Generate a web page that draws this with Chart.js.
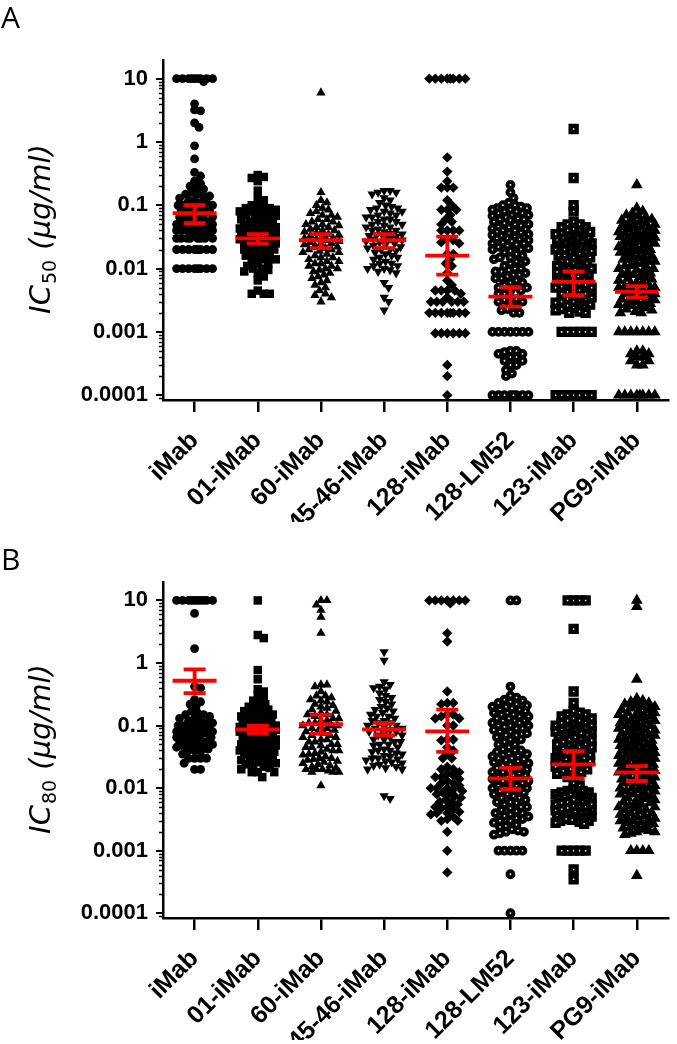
<!DOCTYPE html>
<html>
<head>
<meta charset="utf-8">
<script src="https://cdn.jsdelivr.net/npm/chart.js@4.4.1/dist/chart.umd.min.js"></script>
<style>
  body { margin: 0; width: 677px; height: 1044px; background: #fff; overflow: hidden; position: relative; }
  .panel { position: absolute; left: 0; width: 677px; height: 522px; }
  #pA { top: 0; }
  #pB { top: 518px; }
</style>
</head>
<body>
<div class="panel" id="pA"><canvas id="chartA"></canvas></div>
<div class="panel" id="pB"><canvas id="chartB"></canvas></div>
<script>
const categories = ['iMab', '01-iMab', '60-iMab', '45-46-iMab', '128-iMab', '128-LM52', '123-iMab', 'PG9-iMab'];
const yTicks = [0.0001, 0.001, 0.01, 0.1, 1, 10];

// IC50 values (ug/ml), one array per antibody
const ic50_iMab = [10,10,10,10,10,10,10,10,10,9,
  4,3.2,3.1,2,1.7,0.87,0.54,0.33,0.29,0.24,0.22,
  0.2,0.19,0.18,0.16,0.15,0.15,0.14,0.14,0.13,0.12,0.12,0.11,0.11,0.1,0.1,0.1,0.095,0.09,0.09,0.085,0.08,0.08,0.075,0.07,0.07,0.065,0.065,0.06,0.06,0.058,0.055,0.052,0.05,0.05,0.048,0.045,0.045,0.042,
  0.04,0.04,0.04,0.04,0.04,0.04,0.04,0.036,0.034,0.032,
  0.03,0.03,0.03,0.03,0.03,0.03,0.03,0.03,
  0.02,0.02,0.02,0.02,0.02,0.02,0.02,0.02,
  0.01,0.01,0.01,0.01,0.01,0.01,0.01,0.01];
const ic50_01 = [0.3,0.28,0.27,0.24,0.17,0.13,0.12,
  0.1,0.1,0.095,0.09,0.09,0.085,0.08,0.08,0.08,0.075,0.07,0.07,0.068,0.065,0.06,0.06,0.06,0.055,0.055,0.05,0.05,0.05,0.048,0.045,0.045,0.043,0.04,0.04,0.04,0.038,0.036,0.035,0.034,0.033,0.032,0.03,0.03,0.03,0.029,0.028,0.027,0.026,0.025,0.025,0.024,0.023,0.022,0.021,0.02,0.02,0.02,0.019,0.018,0.017,0.016,0.016,0.015,0.014,0.014,0.013,0.012,0.012,0.011,0.01,0.01,0.0095,0.009,0.0085,0.0075,0.0065,
  0.0045,0.004,0.004,0.004];
const ic50_60 = [6,0.16,0.12,0.11,0.1,0.09,0.085,0.08,0.075,0.07,0.07,0.065,0.06,0.06,0.055,0.055,0.05,0.05,0.048,0.045,0.045,0.042,0.04,0.04,0.038,0.036,0.035,0.034,0.033,0.032,0.03,0.03,0.029,0.028,0.027,0.026,0.025,0.025,0.024,0.023,0.022,0.021,0.02,0.02,0.019,0.018,0.018,0.017,0.016,0.015,0.015,0.014,0.013,0.013,0.012,0.012,0.011,0.011,0.01,0.01,0.0095,0.009,0.0085,0.008,0.0075,0.007,0.0065,0.006,0.0055,0.005,0.0045,0.004,0.0038,0.0035,0.003];
const ic50_4546 = [0.17,0.17,0.16,0.16,0.15,0.13,0.12,0.11,0.1,0.095,0.09,0.09,0.085,0.08,0.08,0.075,0.07,0.07,0.065,0.065,0.06,0.06,0.055,0.055,0.05,0.05,0.048,0.045,0.045,0.042,0.04,0.04,0.038,0.036,0.035,0.034,0.033,0.032,0.03,0.03,0.029,0.028,0.027,0.026,0.025,0.024,0.023,0.022,0.021,0.02,0.02,0.019,0.018,0.017,0.016,0.015,0.015,0.014,0.013,0.012,0.012,0.011,0.011,0.01,0.01,0.0095,0.009,0.0085,0.006,0.005,0.0035,0.003,0.0022];
const ic50_128 = [10,10,10,10,10,10,10,10,0.57,0.34,0.24,0.19,0.19,0.19,0.12,0.1,0.085,0.085,0.085,0.07,0.06,0.055,0.05,0.04,0.04,0.04,0.04,0.03,0.028,0.026,0.025,0.017,0.017,0.014,0.012,0.011,0.0085,0.0065,0.0055,
  0.0045,0.0045,0.0045,0.0045,0.004,0.0035,0.003,0.003,0.003,0.003,0.003,0.003,
  0.002,0.002,0.002,0.002,0.002,0.002,0.002,0.002,
  0.00095,0.00095,0.00095,0.00095,0.00095,0.00095,0.0003,0.0002,0.0001];
const ic50_LM52 = [0.21,0.16,0.13,0.11,
  0.1,0.1,0.095,0.09,0.09,0.085,0.085,0.08,0.08,0.075,0.075,0.07,0.07,0.068,0.065,0.062,0.06,0.06,0.058,0.055,0.052,0.05,0.05,0.048,0.046,0.045,0.043,0.042,0.04,0.04,0.038,0.037,0.036,0.035,0.034,0.033,0.032,0.031,0.03,0.03,0.029,0.028,0.027,0.026,0.025,0.025,0.024,0.023,0.022,0.021,0.02,0.02,0.019,0.018,0.017,0.016,0.015,0.015,0.014,0.013,0.013,0.012,
  0.011,0.01,0.01,0.0095,0.009,0.009,0.0085,0.008,0.008,0.0075,0.007,0.007,0.0065,0.006,0.006,0.0055,0.0052,0.005,0.005,0.0045,0.0045,0.004,0.004,0.0035,0.0033,0.0032,0.003,0.003,0.0028,0.0025,0.0023,0.0022,0.002,0.002,
  0.001,0.001,0.001,0.001,0.001,0.001,0.001,
  0.0005,0.0005,0.00048,0.00045,0.00045,0.0004,0.0004,0.00035,0.00035,0.0003,0.0003,0.00025,0.00022,0.0002,
  0.0001,0.0001,0.0001,0.0001,0.0001,0.0001,0.0001,0.0001];
const ic50_123 = [1.6,0.27,0.1,0.08,
  0.055,0.05,0.05,0.045,0.045,0.042,0.04,0.04,0.038,0.036,0.035,0.034,0.033,0.032,0.03,0.03,0.03,0.028,0.027,0.026,0.025,0.025,0.024,0.023,0.022,0.022,0.021,0.02,0.02,0.02,0.019,0.018,0.018,0.017,0.016,0.016,0.015,0.015,0.014,0.013,0.013,0.012,0.012,0.011,0.011,0.01,0.01,0.01,0.0095,0.009,0.0088,0.0085,0.008,0.0078,0.0075,0.007,0.0068,0.0065,0.006,0.006,0.0058,0.0055,0.0052,0.005,0.005,0.0048,0.0045,0.0043,0.004,0.004,0.0038,0.0036,0.0035,0.0033,0.0032,0.003,0.003,0.0029,0.0028,0.0027,0.0026,0.0025,0.0024,0.0023,0.0022,0.0021,0.002,0.002,
  0.001,0.001,0.001,0.001,0.001,0.001,
  0.0001,0.0001,0.0001,0.0001,0.0001,0.0001,0.0001];
const ic50_PG9 = [0.21,
  0.09,0.08,0.075,0.07,0.068,0.065,0.06,0.06,0.058,0.055,0.052,0.05,0.05,0.048,0.046,0.045,0.043,0.042,0.04,0.04,0.038,0.037,0.036,0.035,0.034,0.033,0.032,0.031,0.03,0.03,0.029,0.028,0.027,0.026,0.025,0.025,0.024,0.023,0.022,0.021,0.02,0.02,0.02,0.019,0.018,0.018,0.017,0.016,0.016,0.015,0.015,0.014,0.014,0.013,0.013,0.012,0.012,0.011,0.011,0.01,0.01,0.01,0.0095,0.009,0.009,0.0085,0.008,0.008,0.0075,0.0072,0.007,0.0068,0.0065,0.006,0.006,0.0058,0.0055,0.0052,0.005,0.005,0.0048,0.0046,0.0045,0.0043,0.004,0.004,0.0038,0.0036,0.0035,0.0034,0.0033,0.0032,0.003,0.003,0.0029,0.0028,0.0027,0.0026,0.0025,0.0024,0.0023,0.0022,0.0021,0.002,0.002,
  0.001,0.001,0.001,0.001,0.001,0.001,0.001,
  0.0005,0.0005,0.00045,0.00045,0.0004,0.0004,0.00035,0.00035,0.0003,0.0003,
  0.0001,0.0001,0.0001,0.0001,0.0001,0.0001,0.0001,0.0001];
const ic50Mean = [0.075, 0.03, 0.028, 0.028, 0.016, 0.0036, 0.0062, 0.0043];
const ic50Low  = [0.052, 0.025, 0.021, 0.021, 0.008, 0.0025, 0.0038, 0.0035];
const ic50High = [0.1, 0.035, 0.035, 0.035, 0.032, 0.0051, 0.009, 0.0053];

// IC80 values (ug/ml)
const ic80_iMab = [10,10,10,10,10,10,10,10,10,10,6.2,1.7,0.42,0.4,0.26,0.24,0.22,0.2,
  0.17,0.16,0.15,0.15,0.14,0.13,0.13,0.12,0.12,0.11,0.11,0.1,0.1,0.1,0.1,0.095,0.09,0.09,0.09,0.085,0.085,0.08,0.08,0.08,0.075,0.075,0.07,0.07,0.07,0.065,0.065,0.06,0.06,0.06,0.055,0.055,0.05,0.05,0.05,0.048,0.045,0.045,0.042,0.04,0.04,0.038,
  0.035,0.03,0.03,0.03,0.03,0.025,0.02,0.02];
const ic80_01 = [10,2.8,2.5,0.77,0.55,0.38,0.35,0.3,0.28,
  0.25,0.24,0.22,0.2,0.2,0.19,0.18,0.17,0.16,0.16,0.15,0.15,0.14,0.14,0.13,0.13,0.12,0.12,0.12,0.11,0.11,0.1,0.1,0.1,0.1,0.095,0.095,0.09,0.09,0.09,0.085,0.085,0.08,0.08,0.08,0.075,0.075,0.07,0.07,0.07,0.065,0.065,0.06,0.06,0.06,0.055,0.055,0.05,0.05,0.05,0.048,0.045,0.045,0.042,0.04,0.04,0.04,0.038,0.036,0.035,0.034,0.032,0.03,0.03,0.029,0.028,0.027,0.026,0.025,0.024,0.023,0.022,0.021,0.02,
  0.018,0.018,0.018,0.015];
const ic80_60 = [10,10,8.5,7,5.4,3,
  0.45,0.45,0.42,0.35,0.3,0.3,0.28,0.26,0.25,0.24,0.22,0.21,0.2,0.19,0.18,0.17,0.16,0.15,0.15,0.14,0.13,0.13,0.12,0.12,0.11,0.11,0.1,0.1,0.1,0.095,0.09,0.09,0.085,0.08,0.08,0.075,0.07,0.07,0.065,0.065,0.06,0.06,0.055,0.055,0.05,0.05,0.048,0.045,0.045,0.042,0.04,0.04,0.038,0.036,0.035,0.034,0.032,0.03,0.03,0.029,0.028,0.027,0.026,0.025,0.024,0.023,0.022,0.021,0.02,0.02,0.02,0.019,0.018,0.018,0.018,0.011];
const ic80_4546 = [1.5,1.1,0.5,0.45,0.42,0.4,0.38,0.33,
  0.3,0.28,0.26,0.24,0.22,0.2,0.19,0.18,0.17,0.16,0.15,0.14,0.14,0.13,0.12,0.12,0.11,0.11,0.1,0.1,0.095,0.09,0.09,0.085,0.08,0.08,0.075,0.07,0.07,0.065,0.06,0.06,0.055,0.055,0.05,0.05,0.048,0.045,0.042,0.04,0.04,0.038,0.036,0.035,0.033,0.032,0.03,0.03,0.029,0.028,0.027,0.026,0.025,0.024,0.023,0.022,0.021,0.02,0.02,
  0.0075,0.0068];
const ic80_128 = [10,10,10,10,10,10,10,9,3,2.2,
  0.35,0.23,0.23,0.22,0.15,0.15,0.14,0.13,0.13,0.1,0.1,0.06,0.06,0.058,0.045,0.04,0.035,0.03,0.03,
  0.022,0.02,0.02,0.018,0.017,0.016,0.015,0.015,0.014,0.013,0.012,0.012,0.011,0.01,0.01,0.01,0.0095,0.009,0.0085,0.008,0.008,0.0075,0.007,0.0065,0.006,0.006,0.0055,0.005,0.005,0.0048,0.0045,0.0042,0.004,0.004,0.0038,0.0035,0.0032,0.003,0.003,
  0.002,0.001,0.00045];
const ic80_LM52 = [10,10,0.42,0.3,0.28,0.26,
  0.25,0.24,0.23,0.22,0.21,0.2,0.2,0.19,0.18,0.18,0.17,0.16,0.16,0.15,0.15,0.14,0.14,0.13,0.13,0.12,0.12,0.12,0.11,0.11,0.1,0.1,0.1,0.095,0.09,0.09,0.085,0.08,0.08,0.075,0.07,0.07,0.065,0.06,0.06,0.055,0.05,0.05,0.045,0.042,0.04,0.04,0.038,0.036,0.035,0.034,0.033,0.032,0.03,0.03,0.029,0.028,0.027,0.026,0.025,0.024,0.023,0.022,0.021,0.02,0.02,0.019,0.018,0.018,0.017,0.016,0.016,0.015,0.015,0.014,0.014,0.013,0.013,0.012,0.012,0.011,0.011,0.01,0.01,0.01,0.0095,0.009,0.009,0.0085,0.008,0.008,0.0075,0.007,0.007,0.0065,0.006,0.006,0.0058,0.0055,0.005,0.005,0.0048,0.0045,0.0043,0.004,0.004,0.0038,0.0036,0.0035,0.0033,0.0032,0.003,0.003,0.0028,0.0026,0.0025,0.0024,0.0022,0.0021,0.002,0.002,0.0019,0.0018,
  0.001,0.001,0.001,0.001,0.001,
  0.00042,0.0001];
const ic80_123 = [10,10,10,10,3.5,0.35,0.23,
  0.17,0.16,0.15,0.15,0.14,0.13,0.13,0.12,0.12,0.11,0.11,0.1,0.1,0.1,0.095,0.09,0.09,0.085,0.085,0.08,0.08,0.075,0.075,0.07,0.07,0.065,0.065,0.06,0.06,0.058,0.055,0.052,0.05,0.05,0.048,0.045,0.045,0.043,0.04,0.04,0.038,0.036,0.035,0.034,0.033,0.032,0.03,0.03,0.029,0.028,0.027,0.026,0.025,0.024,0.023,0.022,0.021,0.02,0.02,0.019,0.018,0.017,0.016,0.015,
  0.012,0.011,
  0.0095,0.009,0.009,0.0085,0.0085,0.008,0.008,0.0078,0.0075,0.0072,0.007,0.007,0.0068,0.0065,0.0065,0.006,0.006,0.0058,0.0055,0.0055,0.0052,0.005,0.005,0.0048,0.0046,0.0045,0.0044,0.0042,0.004,0.004,0.0038,0.0037,0.0036,0.0035,0.0034,0.0033,0.0032,0.0031,0.003,0.003,0.0029,0.0028,0.0027,
  0.001,0.001,0.001,0.001,0.001,0.0005,0.00035];
const ic80_PG9 = [10,8,0.55,
  0.27,0.25,0.24,0.23,0.22,0.21,0.2,0.2,0.19,0.18,0.18,0.17,0.16,0.16,0.15,0.15,0.14,0.14,0.13,0.13,0.12,0.12,0.12,0.11,0.11,0.1,0.1,0.1,0.095,0.09,0.09,0.085,0.085,0.08,0.08,0.075,0.075,0.07,0.07,0.068,0.065,0.062,0.06,0.06,0.058,0.055,0.052,0.05,0.05,0.048,0.046,0.045,0.043,0.042,0.04,0.04,0.038,0.037,0.036,0.035,0.034,0.033,0.032,0.031,0.03,0.03,0.029,0.028,0.027,0.026,0.025,0.025,0.024,0.023,0.022,0.021,0.02,0.02,0.02,0.019,0.018,0.018,0.017,0.016,0.016,0.015,0.015,0.014,0.014,0.013,0.013,0.012,0.012,0.011,0.011,0.01,0.01,0.01,0.0095,0.009,0.009,0.0085,0.008,0.008,0.0075,0.007,0.007,0.0068,0.0065,0.006,0.006,0.0058,0.0055,0.0052,0.005,0.005,0.0048,0.0046,0.0045,0.0043,0.004,0.004,0.0038,0.0036,0.0035,0.0034,0.0033,0.0032,0.003,0.003,0.0029,0.0028,0.0027,0.0026,0.0025,0.0024,0.0023,0.0022,0.0021,0.002,0.002,0.0019,0.0018,
  0.001,0.001,0.001,0.001,0.0004];
const ic80Mean = [0.52, 0.087, 0.105, 0.087, 0.081, 0.0143, 0.024, 0.0178];
const ic80Low  = [0.33, 0.075, 0.074, 0.07, 0.038, 0.0096, 0.0145, 0.013];
const ic80High = [0.79, 0.1, 0.15, 0.11, 0.18, 0.021, 0.039, 0.0224];

// marker look for each antibody, same order as categories
const markers = [
  { style: 'circle', r: 4.4, fill: '#000', bw: 0 },
  { style: 'rect', r: 6, fill: '#000', bw: 0 },
  { style: 'triangle', r: 5.4, fill: '#000', bw: 0 },
  { style: 'triangle', r: 5.4, fill: '#000', bw: 0, rot: 180 },
  { style: 'rectRot', r: 5.2, fill: '#000', bw: 0 },
  { style: 'circle', r: 2.9, fill: '#fff', bw: 4 },
  { style: 'rect', r: 4.2, fill: '#fff', bw: 4.4 },
  { style: 'triangle', r: 5.4, fill: '#000', bw: 1.4 }
];

Chart.defaults.font.family = '"Liberation Sans", Arial, sans-serif';
Chart.defaults.color = '#000';

// spread points sideways like a column scatter (beeswarm), in pixels
function swarmOffsets(pys, d, maxOff) {
  const cands = [0];
  for (let k = 1; k * d / 4 <= maxOff + 0.01; k++) cands.push(k * d / 4, -k * d / 4);
  const placed = [];
  return pys.map(py => {
    let best = 0, bestScore = -1;
    for (const off of cands) {
      let minD = Infinity;
      for (const p of placed) {
        const dy = p.py - py;
        if (Math.abs(dy) >= d) continue;
        const dist = Math.hypot(p.off - off, dy);
        if (dist < minD) minD = dist;
      }
      if (minD >= d - 0.01) { best = off; break; }
      if (minD > bestScore) { bestScore = minD; best = off; }
    }
    placed.push({ py, off: best });
    return best;
  });
}

const decoPlugin = {
  id: 'deco',
  afterDatasetsDraw(chart, args, opts) {
    const ctx = chart.ctx, xs = chart.scales.x, ys = chart.scales.y;
    ctx.save();
    ctx.strokeStyle = '#ff0000';
    ctx.lineWidth = 3.8;
    for (let i = 0; i < categories.length; i++) {
      const cx = xs.getPixelForValue(i);
      const ym = ys.getPixelForValue(opts.mean[i]);
      const yl = ys.getPixelForValue(opts.low[i]);
      const yh = ys.getPixelForValue(opts.high[i]);
      ctx.beginPath();
      ctx.moveTo(cx - 22, ym); ctx.lineTo(cx + 22, ym);
      ctx.moveTo(cx, yh); ctx.lineTo(cx, yl);
      ctx.moveTo(cx - 11, yh); ctx.lineTo(cx + 11, yh);
      ctx.moveTo(cx - 11, yl); ctx.lineTo(cx + 11, yl);
      ctx.stroke();
    }
    ctx.restore();
  },
  afterDraw(chart, args, opts) {
    const ctx = chart.ctx, ys = chart.scales.y;
    const left = chart.chartArea.left;
    ctx.save();
    // minor log ticks
    ctx.strokeStyle = '#000';
    ctx.lineWidth = 1.5;
    ctx.beginPath();
    for (let n = -5; n <= 1; n++) {
      for (let m = 2; m <= 9; m++) {
        const v = m * Math.pow(10, n);
        if (v < ys.min || v > ys.max) continue;
        const py = Math.round(ys.getPixelForValue(v)) + 0.5;
        ctx.moveTo(left - 4, py); ctx.lineTo(left, py);
      }
    }
    ctx.stroke();
    // y title with subscript
    const cy = (chart.chartArea.top + chart.chartArea.bottom) / 2;
    ctx.translate(50, cy);
    ctx.rotate(-Math.PI / 2);
    ctx.fillStyle = '#000';
    ctx.textBaseline = 'alphabetic';
    const fMain = 'italic 29px "DejaVu Sans"', fSub = '19px "DejaVu Sans"';
    ctx.font = fMain;
    const w1 = ctx.measureText('IC').width, w3 = ctx.measureText(' (\u00b5g/ml)').width;
    ctx.font = fSub;
    const w2 = ctx.measureText(opts.sub).width;
    let x = -(w1 + w2 + w3) / 2;
    ctx.font = fMain; ctx.fillText('IC', x, 0);
    ctx.font = fSub; ctx.fillText(opts.sub, x + w1 + 1, 6);
    ctx.font = fMain; ctx.fillText(' (\u00b5g/ml)', x + w1 + w2 + 2, 0);
    ctx.restore();
    // panel letter
    ctx.save();
    ctx.font = '30px "Open Sans"';
    ctx.fillStyle = '#000';
    ctx.fillText(opts.letter, 1, opts.letterY);
    ctx.restore();
  }
};

function makeChart(canvasId, groups, mean, low, high, letter, letterY, sub, topPad) {
  const datasets = groups.map((vals, i) => ({
    data: vals.map(v => ({ x: i, y: v })),
    pointStyle: markers[i].style,
    pointRadius: markers[i].r,
    pointRotation: markers[i].rot || 0,
    backgroundColor: markers[i].fill,
    borderColor: '#000',
    borderWidth: markers[i].bw,
    clip: false
  }));
  const chart = new Chart(document.getElementById(canvasId), {
    type: 'scatter',
    data: { datasets },
    options: {
      responsive: true,
      maintainAspectRatio: false,
      animation: false,
      events: [],
      layout: { padding: { top: topPad, left: 0, right: 0, bottom: 0 } },
      plugins: {
        legend: { display: false },
        tooltip: { enabled: false },
        deco: { mean, low, high, letter, letterY, sub }
      },
      scales: {
        x: {
          type: 'linear',
          min: -0.5,
          max: 7.5,
          afterBuildTicks: s => { s.ticks = categories.map((c, i) => ({ value: i })); },
          afterFit: s => { s.height = 122; },
          ticks: {
            autoSkip: false,
            minRotation: 45,
            maxRotation: 45,
            padding: 14,
            font: { size: 25, weight: 'bold' },
            callback: v => categories[v]
          },
          grid: { drawOnChartArea: false, drawTicks: true, tickLength: 12, lineWidth: 2.5, color: '#000' },
          border: { color: '#000', width: 2.5 }
        },
        y: {
          type: 'logarithmic',
          min: 0.000084,
          max: 19.7,
          afterBuildTicks: s => { s.ticks = yTicks.map(v => ({ value: v })); },
          afterFit: s => { s.width = 163; },
          ticks: {
            padding: 8,
            font: { size: 22, weight: 'bold' },
            callback: v => String(v)
          },
          grid: { drawOnChartArea: false, drawTicks: true, tickLength: 7, lineWidth: 2, color: '#000' },
          border: { color: '#000', width: 2.5 }
        }
      }
    },
    plugins: [decoPlugin]
  });

  // place points sideways from the scales' pixel positions
  const xs = chart.scales.x, ys = chart.scales.y;
  const unit = xs.getPixelForValue(1) - xs.getPixelForValue(0);
  chart.data.datasets.forEach((ds, i) => {
    const vals = groups[i];
    const offs = swarmOffsets(vals.map(v => ys.getPixelForValue(v)), 6, 18);
    ds.data = vals.map((v, k) => ({ x: i + offs[k] / unit, y: v }));
  });
  chart.update('none');
  return chart;
}

makeChart('chartA',
  [ic50_iMab, ic50_01, ic50_60, ic50_4546, ic50_128, ic50_LM52, ic50_123, ic50_PG9],
  ic50Mean, ic50Low, ic50High, 'A', 28, '50', 60);
makeChart('chartB',
  [ic80_iMab, ic80_01, ic80_60, ic80_4546, ic80_128, ic80_LM52, ic80_123, ic80_PG9],
  ic80Mean, ic80Low, ic80High, 'B', 52, '80', 64);
</script>
</body>
</html>
